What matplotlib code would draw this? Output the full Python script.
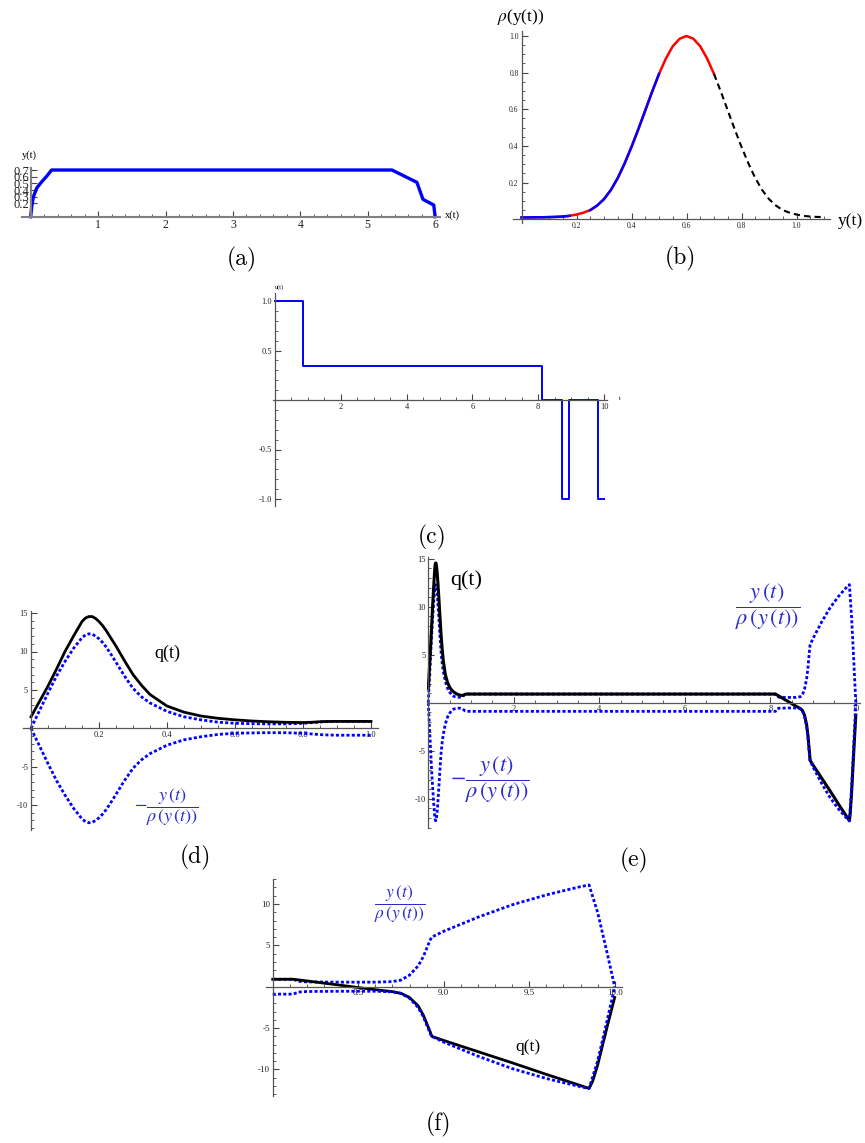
import numpy as np
import matplotlib
matplotlib.use('Agg')
import matplotlib.pyplot as plt
from matplotlib.ticker import FixedLocator, MultipleLocator, FormatStrFormatter

plt.rcParams['font.family'] = ['Liberation Serif', 'DejaVu Serif']
plt.rcParams['mathtext.fontset'] = 'stix'

W, H = 865, 1143

# ---------------- data ----------------
# (a) trajectory x(t), y(t)
xa = [0.0, 0.015, 0.04, 0.09, 0.16, 0.24, 0.31, 5.36, 5.73, 5.82, 5.98, 6.0]
ya = [0.0, 0.15, 0.30, 0.43, 0.52, 0.61, 0.70, 0.70, 0.515, 0.26, 0.175, 0.0]

# (b) rho(y)
yb = [0.0, 0.025, 0.05, 0.075, 0.1, 0.125, 0.15, 0.175, 0.2, 0.225, 0.25, 0.275,
      0.3, 0.325, 0.35, 0.375, 0.4, 0.425, 0.45, 0.475, 0.5, 0.525, 0.55, 0.575,
      0.6, 0.625, 0.65, 0.675, 0.7, 0.725, 0.75, 0.775, 0.8, 0.825, 0.85, 0.875,
      0.9, 0.925, 0.95, 0.975, 1.0, 1.025, 1.05, 1.075, 1.1]
rho_b = [0.010, 0.010, 0.011, 0.011, 0.012, 0.013, 0.015, 0.019, 0.026, 0.036,
         0.050, 0.075, 0.110, 0.160, 0.225, 0.305, 0.395, 0.492, 0.594, 0.696,
         0.793, 0.877, 0.944, 0.985, 1.000, 0.985, 0.944, 0.877, 0.793, 0.696,
         0.594, 0.492, 0.395, 0.305, 0.225, 0.160, 0.110, 0.075, 0.050, 0.036,
         0.026, 0.019, 0.015, 0.013, 0.012]

# (c) control u(t): switching times and levels
u_switch = [0.0, 0.84, 8.12, 8.72, 8.93, 9.83, 10.0]
u_level = [1.0, 0.343, 0.0, -1.0, 0.0, -1.0]

# (d),(e),(f) q(t)
t_q = [0.0, 0.025, 0.05, 0.075, 0.1, 0.125, 0.15, 0.16, 0.17, 0.18, 0.19, 0.2,
       0.21, 0.22, 0.23, 0.25, 0.275, 0.3, 0.325, 0.35, 0.4, 0.45, 0.5, 0.55,
       0.6, 0.65, 0.7, 0.75, 0.8, 0.83, 0.86, 0.9, 1.0, 8.0, 8.12, 8.2, 8.3, 8.4,
       8.5, 8.6, 8.7, 8.75, 8.8, 8.85, 8.88, 8.9, 8.92, 8.93, 9.0, 9.2, 9.4, 9.6,
       9.8, 9.85, 9.87, 9.9, 9.93, 9.96, 10.0]
q_vals = [1.5, 3.5, 5.5, 7.7, 10.0, 12.0, 13.9, 14.35, 14.55, 14.55, 14.3, 13.9,
          13.4, 12.8, 12.1, 10.7, 8.8, 7.0, 5.6, 4.4, 2.9, 2.1, 1.6, 1.3, 1.1,
          0.95, 0.85, 0.78, 0.75, 0.8, 0.88, 0.9, 0.9, 0.9, 0.9, 0.7, 0.43, 0.17,
          -0.1, -0.36, -0.6, -0.8, -1.3, -2.3, -3.4, -4.4, -5.4, -6.0, -6.5,
          -7.85, -9.2, -10.6, -11.95, -12.3, -11.5, -9.5, -7.0, -4.5, -1.3]

# y(t)/rho(y(t))
t_r = [0.0, 0.025, 0.05, 0.075, 0.1, 0.125, 0.15, 0.16, 0.17, 0.18, 0.19, 0.2,
       0.21, 0.22, 0.23, 0.25, 0.275, 0.3, 0.325, 0.35, 0.4, 0.45, 0.5, 0.55,
       0.6, 0.65, 0.7, 0.75, 0.8, 0.83, 0.86, 0.9, 1.0, 8.0, 8.12, 8.15, 8.2,
       8.4, 8.6, 8.7, 8.75, 8.8, 8.85, 8.88, 8.9, 8.92, 8.93, 9.0, 9.2, 9.4,
       9.6, 9.8, 9.85, 9.9, 9.95, 10.0]
r_vals = [0.0, 2.3, 4.6, 6.8, 8.7, 10.4, 11.8, 12.15, 12.3, 12.25, 12.0, 11.65,
          11.2, 10.65, 10.0, 8.6, 6.8, 5.2, 4.1, 3.3, 2.2, 1.5, 1.1, 0.8, 0.65,
          0.6, 0.57, 0.58, 0.65, 0.75, 0.85, 0.9, 0.9, 0.9, 0.9, 0.65, 0.58, 0.55,
          0.55, 0.62, 0.8, 1.4, 2.5, 3.6, 4.6, 5.6, 6.0, 6.7, 8.4, 9.9, 11.1,
          12.1, 12.3, 9.0, 4.6, 0.0]

# ---------------- helpers ----------------
fig = plt.figure(figsize=(W / 100, H / 100), dpi=100)
BLUE = '#0000ff'
TXTBLUE = '#2b2bcc'
AXC = '#555555'


def place(x_ref, px_ref, sx, xlim, y_ref, py_ref, sy, ylim):
    left = px_ref + (xlim[0] - x_ref) * sx
    right = px_ref + (xlim[1] - x_ref) * sx
    top = py_ref - (ylim[1] - y_ref) * sy
    bottom = py_ref - (ylim[0] - y_ref) * sy
    ax = fig.add_axes([left / W, 1 - bottom / H, (right - left) / W, (bottom - top) / H])
    ax.set_xlim(*xlim)
    ax.set_ylim(*ylim)
    ax.patch.set_alpha(0)
    return ax


def style(ax, xmaj, xminstep, ymaj, yminstep, xfmt, yfmt, fs, x0=0.0, y0=0.0,
          axc=AXC, alw=0.9):
    for s in ('top', 'right'):
        ax.spines[s].set_visible(False)
    ax.spines['left'].set_position(('data', x0))
    ax.spines['bottom'].set_position(('data', y0))
    for s in ('left', 'bottom'):
        ax.spines[s].set_color(axc)
        ax.spines[s].set_linewidth(alw)
    ax.xaxis.set_major_locator(FixedLocator(xmaj))
    ax.yaxis.set_major_locator(FixedLocator(ymaj))
    if xminstep:
        ax.xaxis.set_minor_locator(MultipleLocator(xminstep))
    if yminstep:
        ax.yaxis.set_minor_locator(MultipleLocator(yminstep))
    ax.xaxis.set_major_formatter(FormatStrFormatter(xfmt))
    ax.yaxis.set_major_formatter(FormatStrFormatter(yfmt))
    ax.tick_params(which='major', direction='in', length=4, width=0.8, color='#444444',
                   labelsize=fs, labelcolor='#222222', pad=2)
    ax.tick_params(which='minor', direction='in', length=2, width=0.6, color='#444444')


def ftext(x, y, s, **kw):
    kw.setdefault('ha', 'center')
    kw.setdefault('va', 'center')
    fig.text(x / W, 1 - y / H, s, **kw)


def caption(x, y, s):
    ftext(x, y, s, fontsize=17, family='cmr10')


FRAC = r'$\dfrac{y\,(t)}{\rho\,(y\,(t))}$'
MFRAC = r'$-\dfrac{y\,(t)}{\rho\,(y\,(t))}$'

# ---------------- (a) ----------------
ax = place(0, 30.7, 67.4, (-0.13, 6.07), 0, 216.7, 66.7, (0, 0.73))
ax.plot(xa, ya, color=BLUE, lw=2.4, solid_joinstyle='round', clip_on=False)
style(ax, [1, 2, 3, 4, 5, 6], 0.2, [0.2, 0.3, 0.4, 0.5, 0.6, 0.7], None,
      '%d', '%.1f', 8.5, axc='#808080', alw=1.5)
ax.tick_params(axis='y', labelsize=9, pad=1)
ftext(29, 155, 'y(t)', fontsize=7.5)
ftext(452, 215, 'x(t)', fontsize=7.5)
caption(242, 259, '(a)')

# ---------------- (b) ----------------
ax = place(0, 521.5, 275, (-0.03, 1.12), 0, 219.3, 183.3, (-0.02, 1.03))
yb_a = np.array(yb)
rho_a = np.array(rho_b)
m_red = yb_a <= 0.7 + 1e-9
m_b1 = yb_a <= 0.175 + 1e-9
m_b2 = (yb_a >= 0.25 - 1e-9) & (yb_a <= 0.5 + 1e-9)
m_dash = yb_a >= 0.7 - 1e-9
ax.plot(yb_a[m_red], rho_a[m_red], color='#ff0000', lw=1.8)
ax.plot(yb_a[m_b1], rho_a[m_b1], color=BLUE, lw=1.8)
ax.plot(yb_a[m_b2], rho_a[m_b2], color=BLUE, lw=1.8)
ax.plot(yb_a[m_dash], rho_a[m_dash], color='black', lw=1.5, ls=(0, (3, 2)))
style(ax, [0.2, 0.4, 0.6, 0.8, 1.0], 0.05, [0.2, 0.4, 0.6, 0.8, 1.0], 0.05,
      '%.1f', '%.1f', 5.5)
ftext(521, 17, r'$\rho$(y(t))', fontsize=12.5)
ftext(850, 221, 'y(t)', fontsize=12.5)
caption(680, 258, '(b)')

# ---------------- (c) ----------------
ax = place(0, 275, 32.9, (-0.05, 10.08), 0, 400, 99, (-1.07, 1.08))
ax.step(u_switch, u_level + [u_level[-1]], where='post', color=BLUE, lw=1.4)
style(ax, [2, 4, 6, 8, 10], 0.5, [-1.0, -0.5, 0.5, 1.0], 0.1, '%d', '%.1f', 6)
ftext(279, 287, 'u(t)', fontsize=4.5)
ftext(620, 398, 't', fontsize=4.5)
caption(432, 537, '(c)')

tq = np.array(t_q)
qv = np.array(q_vals)
tr = np.array(t_r)
rv = np.array(r_vals)
DOT = (0, (1.1, 0.8))

# ---------------- (d) ----------------
ax = place(0, 31, 340, (-0.024, 1.02), 0, 728.3, 7.68, (-13.2, 15.3))
mq = tq <= 1.0 + 1e-9
mr = tr <= 1.0 + 1e-9
ax.plot(tr[mr], rv[mr], color=BLUE, lw=2.0, ls=DOT)
ax.plot(tq[mq], qv[mq], color='black', lw=2.0)
ax.plot(tr[mr], -rv[mr], color=BLUE, lw=2.0, ls=DOT)
style(ax, [0.2, 0.4, 0.6, 0.8, 1.0], 0.05, [-10, -5, 5, 10, 15], 1, '%.1f', '%d', 6)
ftext(167, 653, 'q(t)', fontsize=13)
ftext(166, 807, MFRAC, fontsize=13, color=TXTBLUE)
caption(195, 857, '(d)')

# ---------------- (e) ----------------
ax = place(0, 428.3, 42.75, (-0.04, 10.1), 0, 702.7, 9.6, (-13.1, 15.2))
ax.plot(tr, rv, color=BLUE, lw=2.0, ls=DOT)
ax.plot(tq, qv, color='black', lw=2.2)
ax.plot(tr, -rv, color=BLUE, lw=2.0, ls=DOT)
style(ax, [2, 4, 6, 8, 10], 0.5, [-10, -5, 5, 10, 15], 1, '%d', '%d', 6)
ftext(466, 580, 'q(t)', fontsize=16)
ftext(768, 607, FRAC, fontsize=16, color=TXTBLUE)
ftext(490, 780, MFRAC, fontsize=16, color=TXTBLUE)
caption(634, 860, '(e)')

# ---------------- (f) ----------------
ax = place(8.0, 272.7, 171, (7.96, 10.04), 0, 986.7, 8.27, (-13.2, 13.0))
mq = tq >= 8.0 - 1e-9
mr = tr >= 8.0 - 1e-9
ax.plot(tr[mr], rv[mr], color=BLUE, lw=2.0, ls=DOT)
ax.plot(tq[mq], qv[mq], color='black', lw=2.0)
ax.plot(tr[mr], -rv[mr], color=BLUE, lw=2.0, ls=DOT)
style(ax, [8.5, 9.0, 9.5, 10.0], 0.1, [-10, -5, 5, 10], 1, '%.1f', '%d', 6.5, x0=8.0)
ftext(400, 904, FRAC, fontsize=12.5, color=TXTBLUE)
ftext(528, 1047, 'q(t)', fontsize=12.5)
caption(438, 1124, '(f)')

fig.savefig('out.png', dpi=100)
